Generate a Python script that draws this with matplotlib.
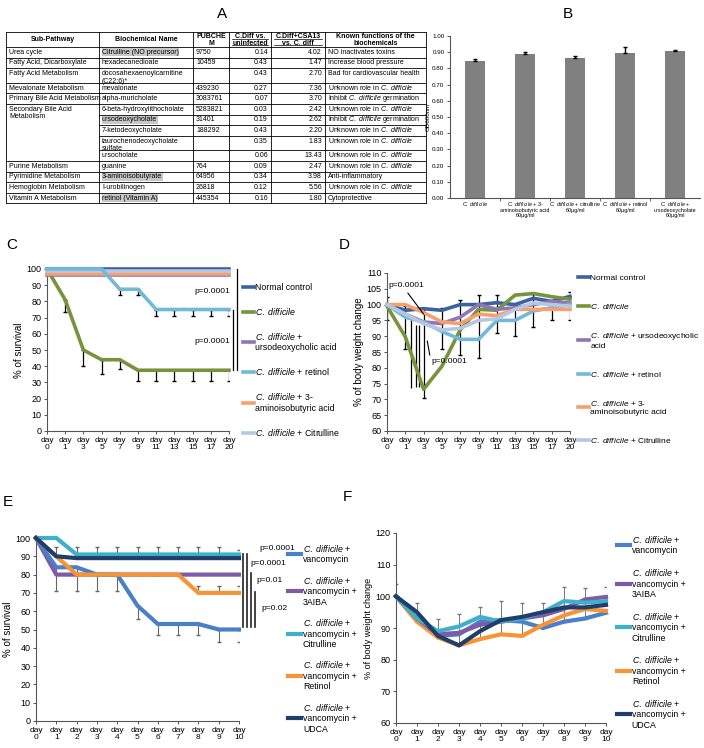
import matplotlib.pyplot as plt
import numpy as np

plt.rcParams['font.family'] = ['Liberation Sans', 'DejaVu Sans']
plt.rcParams['mathtext.fontset'] = 'custom'
plt.rcParams['mathtext.rm'] = 'Liberation Sans'
plt.rcParams['mathtext.it'] = 'Liberation Sans:italic'
plt.rcParams['mathtext.bf'] = 'Liberation Sans:bold'

W, H = 704, 748
CD = r'$\it{C.\ difficile}$'

# ---------------- A: table
tbl_header = ['Sub-Pathway', 'Biochemical Name', 'PUBCHE\nM', 'C.Diff vs.\nuninfected',
              'C.Diff+CSA13\nvs. C. diff', 'Known functions of the\nbiochemicals']
sub_pathway = ['Urea cycle', 'Fatty Acid, Dicarboxylate', 'Fatty Acid Metabolism',
               'Mevalonate Metabolism', 'Primary Bile Acid Metabolism',
               'Secondary Bile Acid\nMetabolism', 'Purine Metabolism',
               'Pyrimidine Metabolism', 'Hemoglobin Metabolism', 'Vitamin A Metabolism']
sub_span = [1, 1, 1, 1, 1, 5, 1, 1, 1, 1]
biochem = ['Citrulline (NO precursor)', 'hexadecanedioate', 'docosahexaenoylcarnitine\n(C22:6)*',
           'mevalonate', 'alpha-muricholate', '6-beta-hydroxylithocholate', 'ursodeoxycholate',
           '7-ketodeoxycholate', 'taurochenodeoxycholate\nsulfate', 'ursocholate', 'guanine',
           '3-aminoisobutyrate', 'I-urobilinogen', 'retinol (Vitamin A)']
highlighted = [0, 6, 11, 13]
pubchem = ['9750', '10459', '', '439230', '3083761', '5283821', '31401', '188292', '', '',
           '764', '64956', '26818', '445354']
vs_uninf = [0.14, 0.43, 0.43, 0.27, 0.07, 0.03, 0.19, 0.43, 0.35, 0.06, 0.09, 0.34, 0.12, 0.16]
vs_cdiff = [4.02, 1.47, 2.70, 7.36, 3.70, 2.42, 2.62, 2.20, 1.83, 13.43, 2.47, 3.98, 5.56, 1.80]
functions = ['NO inactivates toxins', 'Increase blood pressure', 'Bad for cardiovascular health',
             'Unknown role in ' + CD, 'Inhibit ' + CD + ' germination', 'Unknown role in ' + CD,
             'Inhibit ' + CD + ' germination', 'Unknown role in ' + CD, 'Unknown role in ' + CD,
             'Unknown role in ' + CD, 'Unknown role in ' + CD, 'Anti-inflammatory',
             'Unknown role in ' + CD, 'Cytoprotective']

# ---------------- B: OD600 bars
b_labels = [CD, CD + ' + 3-\naminoisobutyric acid\n60μg/ml', CD + ' + citrulline\n60μg/ml',
            CD + ' + retinol\n60μg/ml', CD + ' +\nursodeoxycholate\n60μg/ml']
b_od = [0.845, 0.89, 0.865, 0.895, 0.905]
b_err = [0.01, 0.012, 0.01, 0.035, 0.01]

# ---------------- C: survival
c_days = ['0', '1', '3', '5', '7', '9', '11', '13', '15', '17', '20']
c_normal = [100, 100, 100, 100, 100, 100, 100, 100, 100, 100, 100]
c_cdiff = [100, 81, 50, 44, 44, 37.5, 37.5, 37.5, 37.5, 37.5, 37.5]
c_cdiff_err = [0, 7.5, 10, 9, 6, 6.5, 6.5, 6.5, 6.5, 6.5, 6.5]
c_urso = [96, 96, 96, 96, 96, 96, 96, 96, 96, 96, 96]
c_retinol = [100, 100, 100, 100, 87.5, 87.5, 75, 75, 75, 75, 75]
c_retinol_err = [0, 0, 0, 0, 3.5, 3.5, 4, 4, 4, 4, 4]
c_amino = [97, 97, 97, 97, 97, 97, 97, 97, 97, 97, 97]
c_citr = [98.5, 98.5, 98.5, 98.5, 98.5, 98.5, 98.5, 98.5, 98.5, 98.5, 98.5]

# ---------------- D: body weight
d_normal = [100, 98.2, 98.7, 98.2, 100, 100, 100.6, 100, 102, 101, 102.6]
d_cdiff = [99.5, 89.8, 73.2, 80.5, 92, 98.5, 98.2, 103, 103.5, 102.5, 101.7]
d_urso = [100, 97, 94.5, 94, 96, 100, 98.5, 99, 100, 101, 100.5]
d_retinol = [100, 96, 94.5, 91.5, 89, 89, 95, 95, 98, 99, 100]
d_amino = [100, 100, 97.5, 94.5, 94, 97, 96.5, 98.5, 98.5, 98.5, 98.5]
d_citr = [100, 97, 94, 92, 92.5, 95, 95.5, 98.5, 100.5, 100, 99.5]
d_err_lo = [95, 86, 70.5, 86, 84, 83, 91, 90, 93, 95, 95]
d_err_hi = [102.5, 99.5, 99, 99, 101.5, 103, 103, 100, 103.5, 101, 104]
d_extra_x = [1.31, 1.58, 1.74]
d_extra_lo = [73.5, 74, 74]
d_extra_hi = [95, 93.5, 93.5]

# ---------------- E: survival with vancomycin
e_days = ['0', '1', '2', '3', '4', '5', '6', '7', '8', '9', '10']
e_vanco = [100, 84, 84, 80, 80, 63, 53, 53, 53, 50, 50]
e_vanco_err = [0, 13, 13, 9, 9, 7, 6, 6, 6, 7, 7]
e_aiba = [100, 80, 80, 80, 80, 80, 80, 80, 80, 80, 80]
e_citr = [100, 100, 91, 91, 91, 91, 91, 91, 91, 91, 91]
e_citr_err = [0, 0, 4, 4, 4, 4, 4, 4, 4, 4, 2.5]
e_retinol = [100, 90, 80, 80, 80, 80, 80, 80, 70, 70, 70]
e_retinol_err = [0, 0, 0, 0, 0, 0, 0, 0, 4, 4, 4]
e_udca = [100, 90, 89, 89, 89, 89, 89, 89, 89, 89, 89]
e_udca_err = [0, 5, 0, 0, 0, 0, 0, 0, 0, 0, 0]

# ---------------- F: body weight with vancomycin
f_vanco = [100, 93, 87.5, 88, 92, 92.5, 92, 90, 92, 93, 94.8]
f_aiba = [100, 93, 88, 88.5, 91, 92, 93, 94, 96, 99, 99.8]
f_citr = [100, 93, 89, 90.5, 93.5, 92, 93, 95, 98.5, 98, 98.5]
f_retinol = [100, 92, 87, 84.5, 86.5, 88, 87.5, 91, 94, 96, 95.4]
f_udca = [100, 95, 87.5, 84.5, 89, 92.5, 93.5, 95, 96.5, 96.5, 97.3]
f_err_top = [104, 98, 93, 94.5, 96.5, 98.5, 98, 98, 103, 102.5, 103]

vanco_names = [CD + ' +\nvancomycin', CD + ' +\nvancomycin +\n3AIBA',
               CD + ' +\nvancomycin +\nCitrulline', CD + ' +\nvancomycin +\nRetinol',
               CD + ' +\nvancomycin +\nUDCA']

fig = plt.figure(figsize=(W / 100, H / 100), dpi=100)
bg = fig.add_axes([0, 0, 1, 1])
bg.set_xlim(0, W)
bg.set_ylim(H, 0)
bg.set_axis_off()


def box(l, t, r, b):
    return fig.add_axes([l / W, 1 - b / H, (r - l) / W, (b - t) / H])


def style(ax, fs=6.5):
    for s in ['top', 'right']:
        ax.spines[s].set_visible(False)
    for s in ['left', 'bottom']:
        ax.spines[s].set_color('#555555')
        ax.spines[s].set_linewidth(0.8)
    ax.tick_params(labelsize=fs, length=2.5, width=0.7, color='#555555', pad=1.5)


def legend(ax, handles, names, x, y, spacing, fs=6.3, hl=1.3):
    leg = ax.legend(handles, names, loc='upper left', bbox_to_anchor=(x / W, 1 - y / H),
                    bbox_transform=fig.transFigure, frameon=False, fontsize=fs,
                    handlelength=hl, handletextpad=0.2, labelspacing=spacing,
                    borderpad=0, borderaxespad=0)
    for t in leg.get_texts():
        t.set_multialignment('left')
    return leg


# panel letters
for letter, (px, py) in {'A': (222, 14), 'B': (568, 14), 'C': (12, 245), 'D': (344, 245),
                         'E': (8, 502), 'F': (347, 497)}.items():
    bg.text(px, py, letter, fontsize=11, ha='center', va='center')

# ---- table A
col_x = [6, 99, 193, 229, 271, 325, 426]
row_h = [15] + [14.6 if '\n' in n else 10.6 for n in biochem]
row_y = 32 + np.concatenate([[0], np.cumsum(row_h)])
lw_t = 0.6
for yy in row_y:
    bg.plot([col_x[1], col_x[-1]], [yy, yy], color='k', lw=lw_t)
groups = np.concatenate([[0], np.cumsum(sub_span)])
for g in groups:
    yy = row_y[0] if g == 0 else row_y[g + 1]
    bg.plot([col_x[0], col_x[1]], [yy, yy], color='k', lw=lw_t)
bg.plot([col_x[0], col_x[1]], [row_y[1], row_y[1]], color='k', lw=lw_t)
for xx in col_x:
    bg.plot([xx, xx], [row_y[0], row_y[-1]], color='k', lw=lw_t)
for j, h in enumerate(tbl_header):
    bg.text((col_x[j] + col_x[j + 1]) / 2, (row_y[0] + row_y[1]) / 2, h, fontsize=5,
            fontweight='bold', ha='center', va='center', linespacing=1.0)
# underline the two fold-change headers
for j in (3, 4):
    cx = (col_x[j] + col_x[j + 1]) / 2
    half = (col_x[j + 1] - col_x[j]) / 2 - 3
    for yy in (row_y[0] + 7.2, row_y[0] + 13.2):
        bg.plot([cx - half, cx + half], [yy, yy], color='k', lw=0.5)
for g, name in enumerate(sub_pathway):
    bg.text(col_x[0] + 3, row_y[groups[g] + 1] + 1.8, name, fontsize=5, va='top', linespacing=1.1)
for i in range(len(biochem)):
    top = row_y[i + 1] + 1.8
    base = row_y[i + 1] + 6.8
    kw = dict(fontsize=5, va='top', linespacing=1.1)
    if i in highlighted:
        kw['bbox'] = dict(facecolor='#c8c8c8', edgecolor='none', pad=0.3)
    bg.text(col_x[1] + 3, top, biochem[i], **kw)
    bg.text(col_x[2] + 3, base, pubchem[i], fontsize=5, va='baseline')
    bg.text(col_x[4] - 3, base, f'{vs_uninf[i]:.2f}', fontsize=5, va='baseline', ha='right')
    bg.text(col_x[5] - 3, base, f'{vs_cdiff[i]:.2f}', fontsize=5, va='baseline', ha='right')
    bg.text(col_x[5] + 3, base, functions[i], fontsize=5, va='baseline')

# ---- B
axb = box(450, 36, 700, 198)
style(axb, 4.5)
xb = np.arange(len(b_od))
axb.bar(xb, b_od, width=0.39, color='#808080')
axb.errorbar(xb, b_od, yerr=[np.zeros(len(b_err)), b_err], fmt='none', ecolor='k',
             elinewidth=1, capsize=1.5)
axb.set_xlim(-0.5, 4.5)
axb.set_ylim(0, 1)
axb.set_yticks(np.arange(0, 1.01, 0.1))
axb.set_yticklabels([f'{v:.2f}' for v in np.arange(0, 1.01, 0.1)])
axb.set_xticks(xb)
axb.set_xticklabels(b_labels, fontsize=3.9, linespacing=1.0)
axb.tick_params(axis='x', length=0)
axb.set_xticks(xb[:-1] + 0.5, minor=True)
axb.tick_params(axis='x', which='minor', length=2.5, color='#555555')
axb.set_ylabel('OD600nm', fontsize=4.5, labelpad=1)

# ---- C
x11 = np.arange(11)
axc = box(47, 269, 229, 431)
style(axc)
lw = 2.6
hc = []
hc.append(axc.plot(x11, c_normal, color='#3A63A0', lw=lw, clip_on=False, zorder=3)[0])
hc.append(axc.plot(x11, c_cdiff, color='#77933C', lw=lw, clip_on=False, zorder=3)[0])
hc.append(axc.plot(x11, c_urso, color='#8F76B4', lw=lw, clip_on=False, zorder=3)[0])
hc.append(axc.plot(x11, c_retinol, color='#72B9D9', lw=lw, clip_on=False, zorder=4)[0])
hc.append(axc.plot(x11, c_amino, color='#F6A06E', lw=lw, clip_on=False, zorder=3)[0])
hc.append(axc.plot(x11, c_citr, color='#B7C6E3', lw=lw, clip_on=False, zorder=3)[0])
axc.errorbar(x11, c_cdiff, yerr=[c_cdiff_err, np.zeros(11)], fmt='none', ecolor='k',
             elinewidth=0.9, capsize=1.3, zorder=2)
axc.errorbar(x11, c_retinol, yerr=[c_retinol_err, np.zeros(11)], fmt='none', ecolor='k',
             elinewidth=0.9, capsize=1.3, zorder=2)
axc.set_xlim(0, 10)
axc.set_ylim(0, 100)
axc.set_yticks(range(0, 101, 10))
axc.set_xticks(x11)
axc.set_xticklabels(['day\n' + d for d in c_days], fontsize=6, linespacing=1.0)
axc.set_ylabel('% of survival', fontsize=7, labelpad=2)
axc.plot([10.45, 10.45], [100, 37.5], color='k', lw=0.9, clip_on=False)
axc.plot([10.2, 10.2], [75, 37.5], color='k', lw=0.9, clip_on=False)
axc.text(10.05, 86, 'p=0.0001', fontsize=6, ha='right', va='center')
axc.text(10.05, 55, 'p=0.0001', fontsize=6, ha='right', va='center')
c_names = ['Normal control', CD, CD + ' +\nursodeoxycholic acid', CD + ' + retinol',
           CD + ' + 3-\naminoisobutyric acid', CD + ' + Citrulline']
legend(axc, hc, c_names, 243, 283, 1.6, hl=1.2)

# ---- D
axd = box(387, 273, 570, 431)
style(axd)
hd = []
for vals, col in [(d_normal, '#3A63A0'), (d_cdiff, '#77933C'), (d_urso, '#8F76B4'),
                  (d_retinol, '#72B9D9'), (d_amino, '#F6A06E'), (d_citr, '#B7C6E3')]:
    hd.append(axd.plot(x11, vals, color=col, lw=lw, clip_on=False, zorder=3)[0])
d_lo = np.array(d_err_lo)
d_hi = np.array(d_err_hi)
axd.errorbar(x11, (d_lo + d_hi) / 2, yerr=(d_hi - d_lo) / 2, fmt='none', ecolor='k',
             elinewidth=0.9, capsize=1.3, zorder=2)
e_lo = np.array(d_extra_lo)
e_hi = np.array(d_extra_hi)
axd.errorbar(d_extra_x, (e_lo + e_hi) / 2, yerr=(e_hi - e_lo) / 2, fmt='none', ecolor='k',
             elinewidth=0.9, capsize=0, zorder=2)
axd.set_xlim(0, 10)
axd.set_ylim(60, 110)
axd.set_yticks(range(60, 111, 5))
axd.set_xticks(x11)
axd.set_xticklabels(['day\n' + d for d in c_days], fontsize=6, linespacing=1.0)
axd.set_ylabel('% of body weight change', fontsize=7, labelpad=2)
axd.annotate('p=0.0001', xy=(2.0, 97), xytext=(0.1, 106), fontsize=6, va='center',
             arrowprops=dict(arrowstyle='-', lw=0.8, shrinkA=1, shrinkB=0,
                             relpos=(0.45, 0)))
axd.annotate('p=0.0001', xy=(2.2, 88.5), xytext=(2.4, 82), fontsize=6, va='center',
             arrowprops=dict(arrowstyle='-', lw=0.8, shrinkA=0, shrinkB=0,
                             relpos=(0, 0.5)))
d_names = ['Normal control', CD, CD + ' + ursodeoxycholic\nacid', CD + ' + retinol',
           CD + ' + 3-\naminoisobutyric acid', CD + ' + Citrulline']
legend(axd, hd, d_names, 578, 274, 2.4, fs=6.0)

# ---- E
cols_v = ['#4A80C8', '#7D5BA6', '#3FB0C9', '#F79536', '#203E6B']
axe = box(36, 538, 239, 721)
style(axe)
lwe = 3
he = []
for vals, col, z in zip([e_vanco, e_aiba, e_citr, e_retinol, e_udca], cols_v, [4, 3, 3, 5, 6]):
    he.append(axe.plot(x11, vals, color=col, lw=lwe, clip_on=False, zorder=z)[0])
axe.errorbar(x11, e_vanco, yerr=[e_vanco_err, np.zeros(11)], fmt='none', ecolor='#666666',
             elinewidth=0.8, capsize=1.5, zorder=2)
axe.errorbar(x11, e_citr, yerr=[np.zeros(11), e_citr_err], fmt='none', ecolor='#666666',
             elinewidth=0.8, capsize=1.5, zorder=2)
axe.errorbar(x11, e_retinol, yerr=[np.zeros(11), e_retinol_err], fmt='none', ecolor='#666666',
             elinewidth=0.8, capsize=1.5, zorder=2)
axe.errorbar(x11, e_udca, yerr=[np.zeros(11), e_udca_err], fmt='none', ecolor='#666666',
             elinewidth=0.8, capsize=1.5, zorder=2)
axe.set_xlim(0, 10)
axe.set_ylim(0, 100)
axe.set_yticks(range(0, 101, 10))
axe.set_xticks(x11)
axe.set_xticklabels(['day\n' + d for d in e_days], fontsize=6, linespacing=1.0)
axe.set_ylabel('% of survival', fontsize=7, labelpad=2)
for xx, top in [(10.2, 91), (10.4, 91), (10.6, 81), (10.8, 70.5)]:
    axe.plot([xx, xx], [top, 51.4], color='#222222', lw=1.2, clip_on=False)
for tx, ty, s in [(11.0, 94, 'p=0.0001'), (10.55, 85.8, 'p=0.0001'), (10.84, 77, 'p=0.01'),
                  (11.1, 61.7, 'p=0.02')]:
    axe.text(tx, ty, s, fontsize=6, va='center')
legend(axe, he, vanco_names, 288, 543, 1.2, hl=1.5)

# ---- F
axf = box(396, 533, 606, 723)
style(axf)
hf = []
for vals, col, z in zip([f_vanco, f_aiba, f_citr, f_retinol, f_udca], cols_v, [3, 4, 4, 3, 5]):
    hf.append(axf.plot(x11, vals, color=col, lw=lwe, clip_on=False, zorder=z)[0])
f_base = np.minimum.reduce([f_vanco, f_aiba, f_citr, f_retinol, f_udca])
axf.errorbar(x11, f_base, yerr=[np.zeros(11), np.array(f_err_top) - f_base], fmt='none',
             ecolor='#777777', elinewidth=0.7, capsize=1.5, zorder=2)
axf.set_xlim(0, 10)
axf.set_ylim(60, 120)
axf.set_yticks(range(60, 121, 10))
axf.set_xticks(x11)
axf.set_xticklabels(['day\n' + d for d in e_days], fontsize=6, linespacing=1.0)
axf.set_ylabel('% of body weight change', fontsize=6.5, labelpad=2)
legend(axf, hf, vanco_names, 617, 534, 1.35, hl=1.5)

fig.savefig('out.png', dpi=100)
